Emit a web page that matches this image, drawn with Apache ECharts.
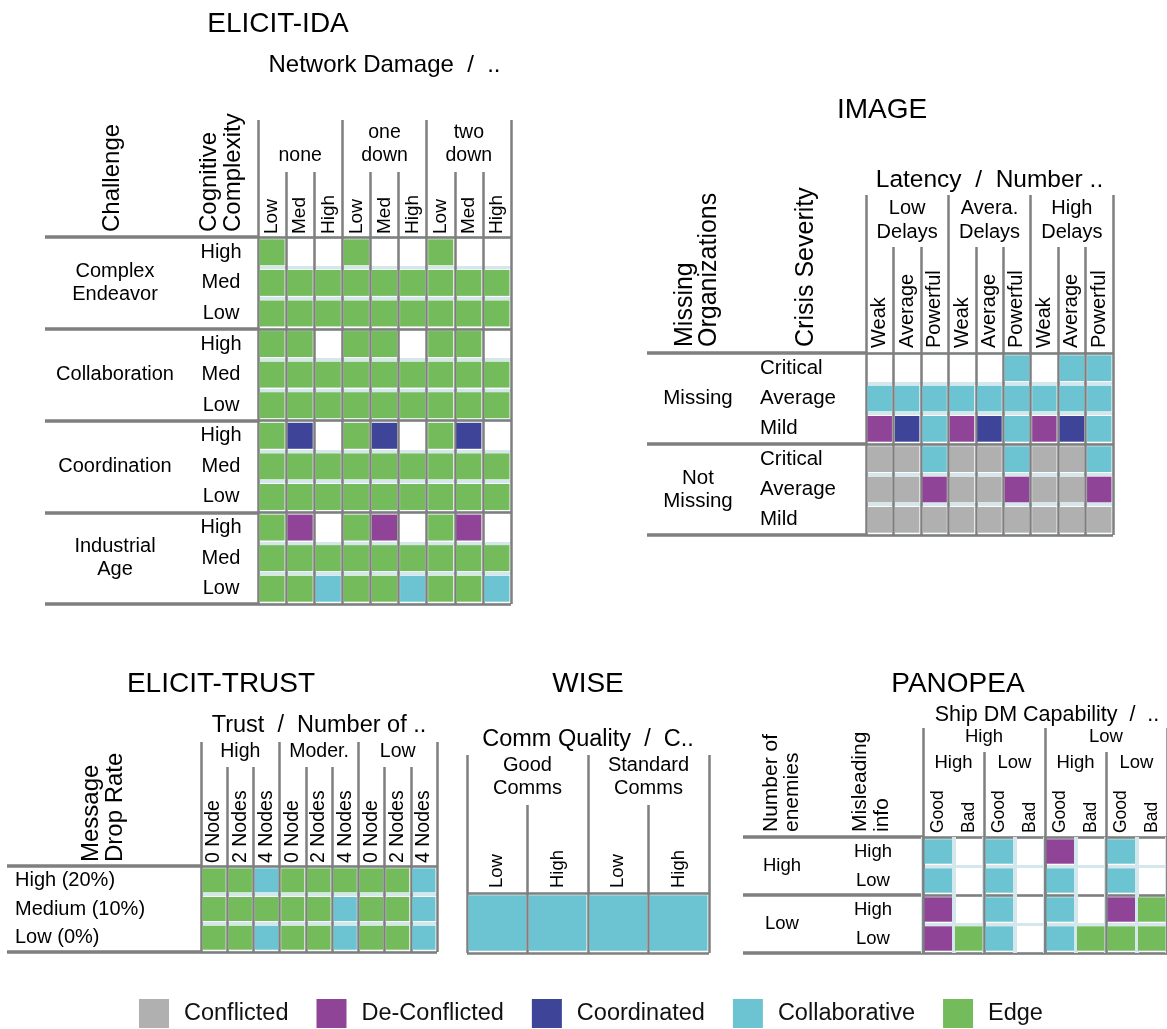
<!DOCTYPE html>
<html>
<head>
<meta charset="utf-8">
<title>C2 maturity by experiment</title>
<script src="https://cdn.jsdelivr.net/npm/echarts@6/dist/echarts.min.js"></script>
<style>
  html, body { margin: 0; padding: 0; background: #fff; }
  #chart { width: 1167px; height: 1029px; }
</style>
</head>
<body>
<div id="chart"></div>
<script>
// maturity levels, the code used for each in the cell tables, '-' = no result
const levels = ['Conflicted', 'De-Conflicted', 'Coordinated', 'Collaborative', 'Edge']
const levelCodes = ['X', 'D', 'O', 'C', 'E']
const levelColors = ['#b0b0b0', '#8f4497', '#3e4598', '#6cc4d2', '#74bc5b']

// ELICIT-IDA
const idaColGroups = ['none', 'one\ndown', 'two\ndown']
const idaCols = ['Low', 'Med', 'High', 'Low', 'Med', 'High', 'Low', 'Med', 'High']
const idaRowGroups = ['Complex\nEndeavor', 'Collaboration', 'Coordination', 'Industrial\nAge']
const idaRows = ['High', 'Med', 'Low', 'High', 'Med', 'Low', 'High', 'Med', 'Low', 'High', 'Med', 'Low']
const idaCells = [
  'E--E--E--',
  'EEEEEEEEE',
  'EEEEEEEEE',
  'EE-EE-EE-',
  'EEEEEEEEE',
  'EEEEEEEEE',
  'EO-EO-EO-',
  'EEEEEEEEE',
  'EEEEEEEEE',
  'ED-ED-ED-',
  'EEEEEEEEE',
  'EECEECEEC'
]

// IMAGE
const imageColGroups = ['Low\nDelays', 'Avera.\nDelays', 'High\nDelays']
const imageCols = ['Weak', 'Average', 'Powerful', 'Weak', 'Average', 'Powerful', 'Weak', 'Average', 'Powerful']
const imageRowGroups = ['Missing', 'Not\nMissing']
const imageRows = ['Critical', 'Average', 'Mild', 'Critical', 'Average', 'Mild']
const imageCells = [
  '-----C-CC',
  'CCCCCCCCC',
  'DOCDOCDOC',
  'XXCXXCXXC',
  'XXDXXDXXD',
  'XXXXXXXXX'
]

// ELICIT-TRUST
const trustColGroups = ['High', 'Moder.', 'Low']
const trustCols = ['0 Node', '2 Nodes', '4 Nodes', '0 Node', '2 Nodes', '4 Nodes', '0 Node', '2 Nodes', '4 Nodes']
const trustRows = ['High (20%)', 'Medium (10%)', 'Low (0%)']
const trustCells = [
  'EECEEEEEC',
  'EEEEECEEC',
  'EECEECEEC'
]

// WISE
const wiseColGroups = ['Good\nComms', 'Standard\nComms']
const wiseCols = ['Low', 'High', 'Low', 'High']
const wiseCells = ['CCCC']

// PANOPEA
const panTopGroups = ['High', 'Low']
const panColGroups = ['High', 'Low', 'High', 'Low']
const panCols = ['Good', 'Bad', 'Good', 'Bad', 'Good', 'Bad', 'Good', 'Bad']
const panRowGroups = ['High', 'Low']
const panRows = ['High', 'Low', 'High', 'Low']
const panCells = [
  'C-C-D-C-',
  'C-C-C-C-',
  'D-C-C-DE',
  'DEC-CEEE'
]

const FONT = "'Liberation Sans', Arial, sans-serif"
const GRAY = '#7f7f7f'
const LIGHT = '#d3e7ec'

// top axes flip the sign of axisLabel.rotate, so -90 reads bottom to top
function topAxis(grid, data, o) {
  return {
    type: 'category', gridIndex: grid, position: 'top', data: data, z: 1,
    axisLine: { show: false, onZero: false },
    axisTick: { show: !!o.tick, length: o.tick || 0, interval: 0, lineStyle: { color: GRAY, width: 2.5 } },
    axisLabel: {
      interval: 0, margin: o.margin, rotate: o.rotate || 0, color: '#000',
      fontFamily: FONT, fontSize: o.size, lineHeight: o.lh
    },
    splitLine: { show: !!o.split, interval: 0, lineStyle: { color: o.split, width: o.splitWidth || 2.5 } }
  }
}

function leftAxis(grid, data, o) {
  return {
    type: 'category', gridIndex: grid, position: 'left', inverse: true, data: data,
    axisLine: { show: false, onZero: false },
    axisTick: { show: !!o.tick, length: o.tick || 0, interval: 0, lineStyle: { color: GRAY, width: 3.5 } },
    axisLabel: {
      show: o.size > 0, interval: 0, margin: o.margin || 0, align: o.align, color: '#000',
      fontFamily: FONT, fontSize: o.size || 12, lineHeight: o.lh
    },
    splitLine: { show: true, interval: 0, lineStyle: { color: o.split, width: o.splitWidth || 2.5 } }
  }
}

function cellRect(params, api) {
  const c = api.coord([api.value(0), api.value(1)])
  const s = api.size([1, 1])
  return {
    type: 'rect',
    shape: { x: c[0] - s[0] / 2 + 1.5, y: c[1] - s[1] / 2 + 2.3, width: s[0] - 3, height: s[1] - 4.6 },
    style: { fill: api.visual('color') }
  }
}

const series = []
function addCells(cells, xIdx, yIdx) {
  levels.forEach((name, k) => {
    const data = []
    cells.forEach((row, r) => {
      row.split('').forEach((code, c) => {
        if (code === levelCodes[k]) data.push([c, r])
      })
    })
    series.push({
      type: 'custom', name: name, xAxisIndex: xIdx, yAxisIndex: yIdx,
      itemStyle: { color: levelColors[k] }, encode: { x: 0, y: 1 },
      renderItem: cellRect, data: data, silent: true
    })
  })
}

const grid = [
  { left: 258, top: 237, width: 253, height: 367 },
  { left: 866, top: 353, width: 247, height: 182 },
  { left: 201, top: 866, width: 236, height: 86 },
  { left: 467, top: 893, width: 242, height: 60 },
  { left: 923, top: 837, width: 249, height: 116 }
]

const xAxis = [
  topAxis(0, idaCols, { rotate: -90, size: 19, margin: 3, tick: 65, split: GRAY }),
  topAxis(0, idaColGroups, { size: 19.5, lh: 23, margin: 70, tick: 117 }),
  topAxis(1, imageCols, { rotate: -90, size: 20, margin: 5, tick: 106, split: GRAY }),
  topAxis(1, imageColGroups, { size: 20, lh: 24, margin: 109, tick: 158 }),
  topAxis(2, trustCols, { rotate: -90, size: 19.5, margin: 3, tick: 99, split: GRAY }),
  topAxis(2, trustColGroups, { size: 19.5, lh: 22, margin: 103, tick: 124 }),
  topAxis(3, wiseCols, { rotate: -90, size: 18.5, margin: 5, tick: 88, split: GRAY }),
  topAxis(3, wiseColGroups, { size: 20, lh: 23, margin: 93, tick: 138 }),
  topAxis(4, panCols, { rotate: -90, size: 17.5, margin: 4, split: LIGHT, splitWidth: 4 }),
  topAxis(4, panColGroups, { size: 18.5, lh: 20, margin: 64, tick: 85, split: GRAY }),
  topAxis(4, panTopGroups, { size: 18.5, lh: 20, margin: 90, tick: 109, split: GRAY })
]

const yAxis = [
  leftAxis(0, idaRows, { size: 20, align: 'center', margin: 37, split: LIGHT, splitWidth: 3 }),
  leftAxis(0, idaRowGroups, { size: 20, lh: 23, align: 'center', margin: 143, tick: 213, split: GRAY }),
  leftAxis(1, imageRows, { size: 20.5, align: 'left', margin: 106, split: LIGHT, splitWidth: 3 }),
  leftAxis(1, imageRowGroups, { size: 20.5, lh: 23, align: 'center', margin: 168, tick: 219, split: GRAY }),
  leftAxis(2, trustRows, { size: 20, align: 'left', margin: 186, split: LIGHT, splitWidth: 3 }),
  leftAxis(2, [''], { tick: 194, split: GRAY }),
  leftAxis(3, [''], { split: GRAY }),
  leftAxis(4, panRows, { size: 18.5, align: 'center', margin: 50, split: LIGHT, splitWidth: 3 }),
  leftAxis(4, panRowGroups, { size: 18.5, align: 'center', margin: 141, tick: 180, split: GRAY })
]

addCells(idaCells, 0, 0)
addCells(imageCells, 2, 2)
addCells(trustCells, 4, 4)
addCells(wiseCells, 6, 6)
addCells(panCells, 8, 7)

function label(x, y, text, size, extra) {
  return Object.assign({
    type: 'text', x: x, y: y, silent: true,
    style: {
      text: text, fontFamily: FONT, fontSize: size, fill: '#000',
      align: 'center', verticalAlign: 'middle', textAlign: 'center', textVerticalAlign: 'middle'
    }
  }, extra || {})
}
function vlabel(x, y, text, size, lh) {
  const el = label(x, y, text, size, { rotation: Math.PI / 2 })
  el.style.align = el.style.textAlign = 'left'
  el.style.lineHeight = lh
  return el
}

const graphic = [
  label(278, 24, 'ELICIT-IDA', 28),
  label(882, 110, 'IMAGE', 28),
  label(221, 684, 'ELICIT-TRUST', 28),
  label(588, 684, 'WISE', 28),
  label(958, 684, 'PANOPEA', 28),
  label(384.5, 65, 'Network Damage  /  ..', 24),
  label(989.5, 180, 'Latency  /  Number ..', 24.5),
  label(319, 726, 'Trust  /  Number of ..', 23.5),
  label(588, 740, 'Comm Quality  /  C..', 23.5),
  label(1047, 715, 'Ship DM Capability  /  ..', 21.5),
  vlabel(112, 232, 'Challenge', 24, 24),
  vlabel(221, 232, 'Cognitive\nComplexity', 24, 24),
  vlabel(697, 347, 'Missing\nOrganizations', 25, 24),
  vlabel(806, 347, 'Crisis Severity', 25, 24),
  vlabel(103, 862, 'Message\nDrop Rate', 24, 24),
  vlabel(782, 832, 'Number of\nenemies', 21, 21),
  vlabel(871, 832, 'Misleading\ninfo', 21, 22)
]

const chart = echarts.init(document.getElementById('chart'))
chart.setOption({
  animation: false,
  grid: grid,
  xAxis: xAxis,
  yAxis: yAxis,
  legend: {
    data: levels, left: 139, top: 999, padding: 0, icon: 'rect', selectedMode: false,
    itemWidth: 30, itemHeight: 29, itemGap: 28,
    textStyle: { fontFamily: FONT, fontSize: 23.5, color: '#111', padding: [0, 0, 0, 10] }
  },
  graphic: graphic,
  series: series
})
</script>
</body>
</html>
